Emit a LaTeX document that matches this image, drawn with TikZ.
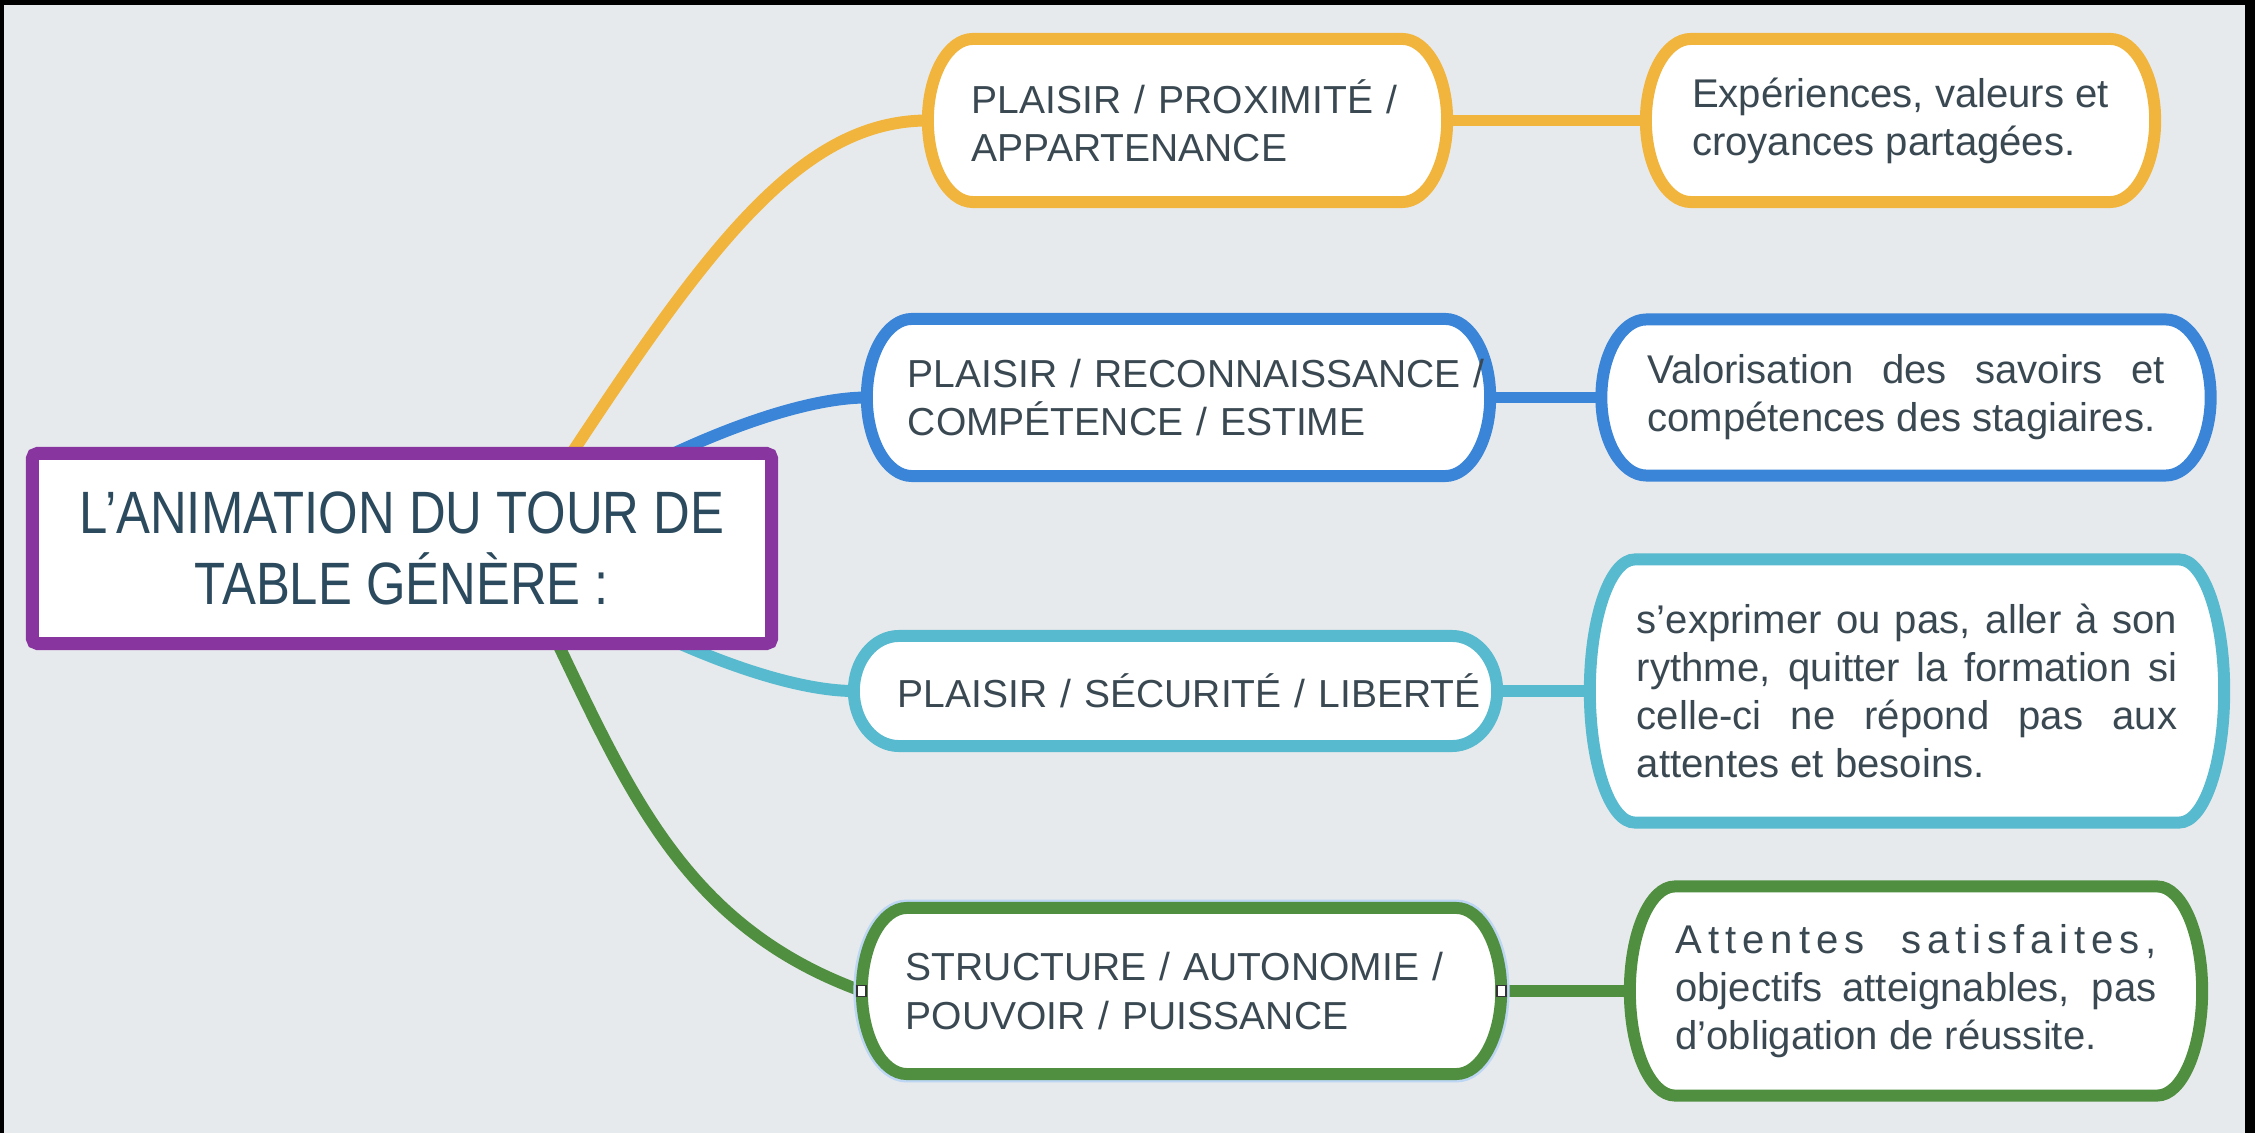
\documentclass[tikz,border=0pt]{standalone}
\usepackage{fontspec}
\setmainfont{Liberation Sans}
\newfontfamily\rootfont[FakeStretch=0.85]{Liberation Sans}
\usetikzlibrary{shapes,calc,backgrounds}
\usepackage{xcolor}
\definecolor{yellowc}{HTML}{F1B53D}
\definecolor{bluec}{HTML}{3A85D8}
\definecolor{cyanc}{HTML}{58BACF}
\definecolor{greenc}{HTML}{4F8F3F}
\definecolor{purplec}{HTML}{8835A0}
\definecolor{bgc}{HTML}{E7EAED}
\definecolor{txtc}{HTML}{3A4852}
\definecolor{roottxt}{HTML}{2B4A5D}
\definecolor{haloc}{HTML}{BCD6F3}

\newcommand{\pillrx}{0.45cm}
\newcommand{\pillshape}[1]{let \p1=(#1.north east), \p2=(#1.south west), \n1={(\y1-\y2)/2} in
  (\x2+\pillrx,\y1) -- (\x1-\pillrx,\y1)
  arc[start angle=90,end angle=-90,x radius=\pillrx,y radius=\n1]
  -- (\x2+\pillrx,\y2)
  arc[start angle=270,end angle=90,x radius=\pillrx,y radius=\n1] -- cycle}

\tikzset{
  link/.style={line width=3.4pt,draw=#1},
  pill/.style={line width=3.4pt,draw=#1,fill=white},
  boxtext/.style={inner sep=0pt,outer sep=0pt,text=txtc},
  lvlone/.style={boxtext,align=left,font=\fontsize{11.1}{13.7}\selectfont},
  lvltwo/.style={boxtext,align=justify,font=\fontsize{11.4}{13.7}\selectfont},
  rootbox/.style={draw=purplec,line width=3.7pt,fill=white,rounded corners=1.5pt,
    align=center,text=roottxt,font=\rootfont\fontsize{17}{20.4}\selectfont},
  handle/.style={draw=black!80,fill=white,line width=0.5pt,minimum width=0.09cm,
    minimum height=0.11cm,inner sep=0pt}
}

\begin{document}
\begin{tikzpicture}[x=0.01cm,y=0.01cm]
        \useasboundingbox (0,0) rectangle (2255,1133);
        % centre
        \node[rootbox,minimum width=7.39cm,minimum height=1.9cm] (root) at (402,584.5)
          {L’ANIMATION DU TOUR DE\\TABLE GÉNÈRE :};
        \coordinate (hub) at (510,585);
        % first level
        \node[lvlone,text width=4.31cm,minimum width=5.19cm,minimum height=1.63cm] (Y1) at (1187.5,1012.5)
          {\mbox{PLAISIR / PROXIMITÉ /}\\APPARTENANCE};
        \node[lvlone,text width=5.41cm,minimum width=6.23cm,minimum height=1.57cm] (B1) at (1178.5,735.5)
          {\mbox{PLAISIR / RECONNAISSANCE /}\\COMPÉTENCE / ESTIME};
        \node[lvlone,text width=5.55cm,minimum width=6.43cm,minimum height=1.1cm] (C1) at (1175.5,442)
          {\mbox{PLAISIR / SÉCURITÉ / LIBERTÉ}};
        \node[lvlone,text width=5.51cm,minimum width=6.39cm,minimum height=1.66cm] (G1) at (1181.5,142)
          {\mbox{STRUCTURE / AUTONOMIE /}\\POUVOIR / PUISSANCE};
        % second level
        \node[boxtext,align=left,font=\fontsize{11.4}{13.7}\selectfont,
              minimum width=5.09cm,minimum height=1.63cm] (Y2) at (1900.5,1012.5)
          {Expériences, valeurs et\\croyances partagées.};
        \node[lvltwo,text width=5.17cm,minimum width=6.09cm,minimum height=1.56cm] (B2) at (1906,735.5)
          {Valorisation des savoirs et\linebreak compétences des stagiaires.};
        \node[lvltwo,text width=5.4cm,minimum width=6.34cm,minimum height=2.63cm] (C2) at (1907,442)
          {s’exprimer ou pas, aller à son\linebreak rythme, quitter la formation si\linebreak
           celle-ci ne répond pas aux\linebreak attentes et besoins.};
        \node[lvltwo,text width=4.81cm,minimum width=5.72cm,minimum height=2.09cm] (G2) at (1916,142)
          {{\addfontfeature{LetterSpace=15}Attentes satisfaites,}\linebreak
           objectifs atteignables, pas\linebreak d’obligation de réussite.};
        % selection handles
        \node[handle] (hw) at (G1.west) {};
        \node[handle] (he) at (G1.east) {};

        \begin{scope}[on background layer]
        \fill[black] (0,0) rectangle (2255,1133);
        \fill[bgc] (4,0) rectangle (2245,1128);
        % branches
        \draw[link=yellowc] (hub) to[out=57,in=180,out looseness=1.4,in looseness=0.6] (Y1.west);
        \draw[link=bluec] (hub) to[out=35,in=180,in looseness=0.55] (B1.west);
        \draw[link=cyanc] (hub) to[out=-35,in=180,in looseness=0.55] (C1.west);
        \draw[link=greenc] (hub) to[out=-62,in=160] (G1.west);
        \draw[link=yellowc] (Y1.east) -- (Y2.west);
        \draw[link=bluec] (B1.east) -- (B2.west);
        \draw[link=cyanc] (C1.east) -- (C2.west);
        \draw[link=greenc] (G1.east) -- (G2.west);
        % boxes
        \filldraw[pill=yellowc] \pillshape{Y1};
        \filldraw[pill=yellowc] \pillshape{Y2};
        \filldraw[pill=bluec] \pillshape{B1};
        \filldraw[pill=bluec] \pillshape{B2};
        \filldraw[pill=cyanc] \pillshape{C1};
        \filldraw[pill=cyanc] \pillshape{C2};
        \draw[line width=4.8pt,haloc] \pillshape{G1};
        \filldraw[pill=greenc] \pillshape{G1};
        \filldraw[pill=greenc] \pillshape{G2};
        \end{scope}
\end{tikzpicture}
\end{document}
